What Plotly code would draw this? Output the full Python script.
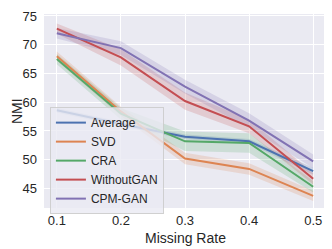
import plotly.graph_objects as go

missing_rate = [0.1, 0.2, 0.3, 0.4, 0.5]
series_names = ["Average", "SVD", "CRA", "WithoutGAN", "CPM-GAN"]
avg_vals = [58.6, 56.2, 54.0, 53.2, 48.0]
svd_vals = [68.0, 58.4, 50.2, 48.4, 43.7]
cra_vals = [67.5, 58.0, 53.2, 52.9, 45.3]
wog_vals = [72.8, 67.8, 60.2, 55.8, 46.7]
cpm_vals = [72.0, 69.4, 62.7, 56.8, 49.7]
avg_err = [0.4, 0.4, 0.4, 0.4, 0.6]
svd_err = [0.8, 0.8, 1.0, 1.0, 0.9]
cra_err = [0.9, 1.0, 1.7, 1.7, 1.0]
wog_err = [0.9, 1.4, 1.5, 1.2, 1.0]
cpm_err = [0.9, 1.2, 1.2, 1.3, 1.2]
x_ticks = [0.1, 0.2, 0.3, 0.4, 0.5]
y_ticks = [45, 50, 55, 60, 65, 70, 75]
x_title = "Missing Rate"
y_title = "NMI"

colors = ["#4C72B0", "#DD8452", "#55A868", "#C44E52", "#8172B3"]
fills = ["rgba(76,114,176,0.2)", "rgba(221,132,82,0.2)", "rgba(85,168,104,0.2)",
         "rgba(196,78,82,0.2)", "rgba(129,114,179,0.2)"]
values = [avg_vals, svd_vals, cra_vals, wog_vals, cpm_vals]
errs = [avg_err, svd_err, cra_err, wog_err, cpm_err]

fig = go.Figure()
for name, v, e, c, f in zip(series_names, values, errs, colors, fills):
    lo = [a - b for a, b in zip(v, e)]
    hi = [a + b for a, b in zip(v, e)]
    fig.add_trace(go.Scatter(x=missing_rate + missing_rate[::-1], y=hi + lo[::-1],
                             fill="toself", fillcolor=f, line=dict(width=0),
                             mode="lines", showlegend=False, hoverinfo="skip"))
for name, v, c in zip(series_names, values, colors):
    fig.add_trace(go.Scatter(x=missing_rate, y=v, mode="lines", name=name,
                             line=dict(color=c, width=2)))

# the page body keeps its default 8px margin, so margins are offset by it
font = dict(family="Liberation Sans, Arial, sans-serif", size=13, color="#262626")
fig.update_layout(
    width=332, height=249,
    margin=dict(l=36, r=14, t=6, b=49, autoexpand=False),
    paper_bgcolor="white", plot_bgcolor="#EAEAF2",
    font=font,
    legend=dict(x=0.021, y=0.52, xanchor="left", yanchor="top",
                bgcolor="rgba(234,234,242,0.8)", bordercolor="rgba(204,204,204,0.9)",
                borderwidth=1, font=dict(size=12, color="#262626"),
                itemwidth=30, tracegroupgap=0),
    xaxis=dict(range=[0.08, 0.52], tickvals=x_ticks, ticktext=[str(t) for t in x_ticks],
               showgrid=True, gridcolor="white", gridwidth=1.2, zeroline=False,
               showline=False, ticks="", automargin=False, ticklabelstandoff=3,
               ticklabeloverflow="allow"),
    yaxis=dict(range=[41.6, 75.34], tickvals=y_ticks,
               showgrid=True, gridcolor="white", gridwidth=1.2, zeroline=False,
               showline=False, ticks="", automargin=False, ticklabelstandoff=6,
               ticklabeloverflow="allow"),
    annotations=[
        dict(text=x_title, xref="paper", yref="paper", x=0.5, y=0, yshift=-30,
             xanchor="center", yanchor="middle", showarrow=False,
             font=dict(size=14, color="#262626")),
        dict(text=y_title, xref="paper", yref="paper", x=0, y=0.5, xshift=-27,
             xanchor="center", yanchor="middle", textangle=-90, showarrow=False,
             font=dict(size=14, color="#262626")),
    ],
)
fig.write_html("out.html")
